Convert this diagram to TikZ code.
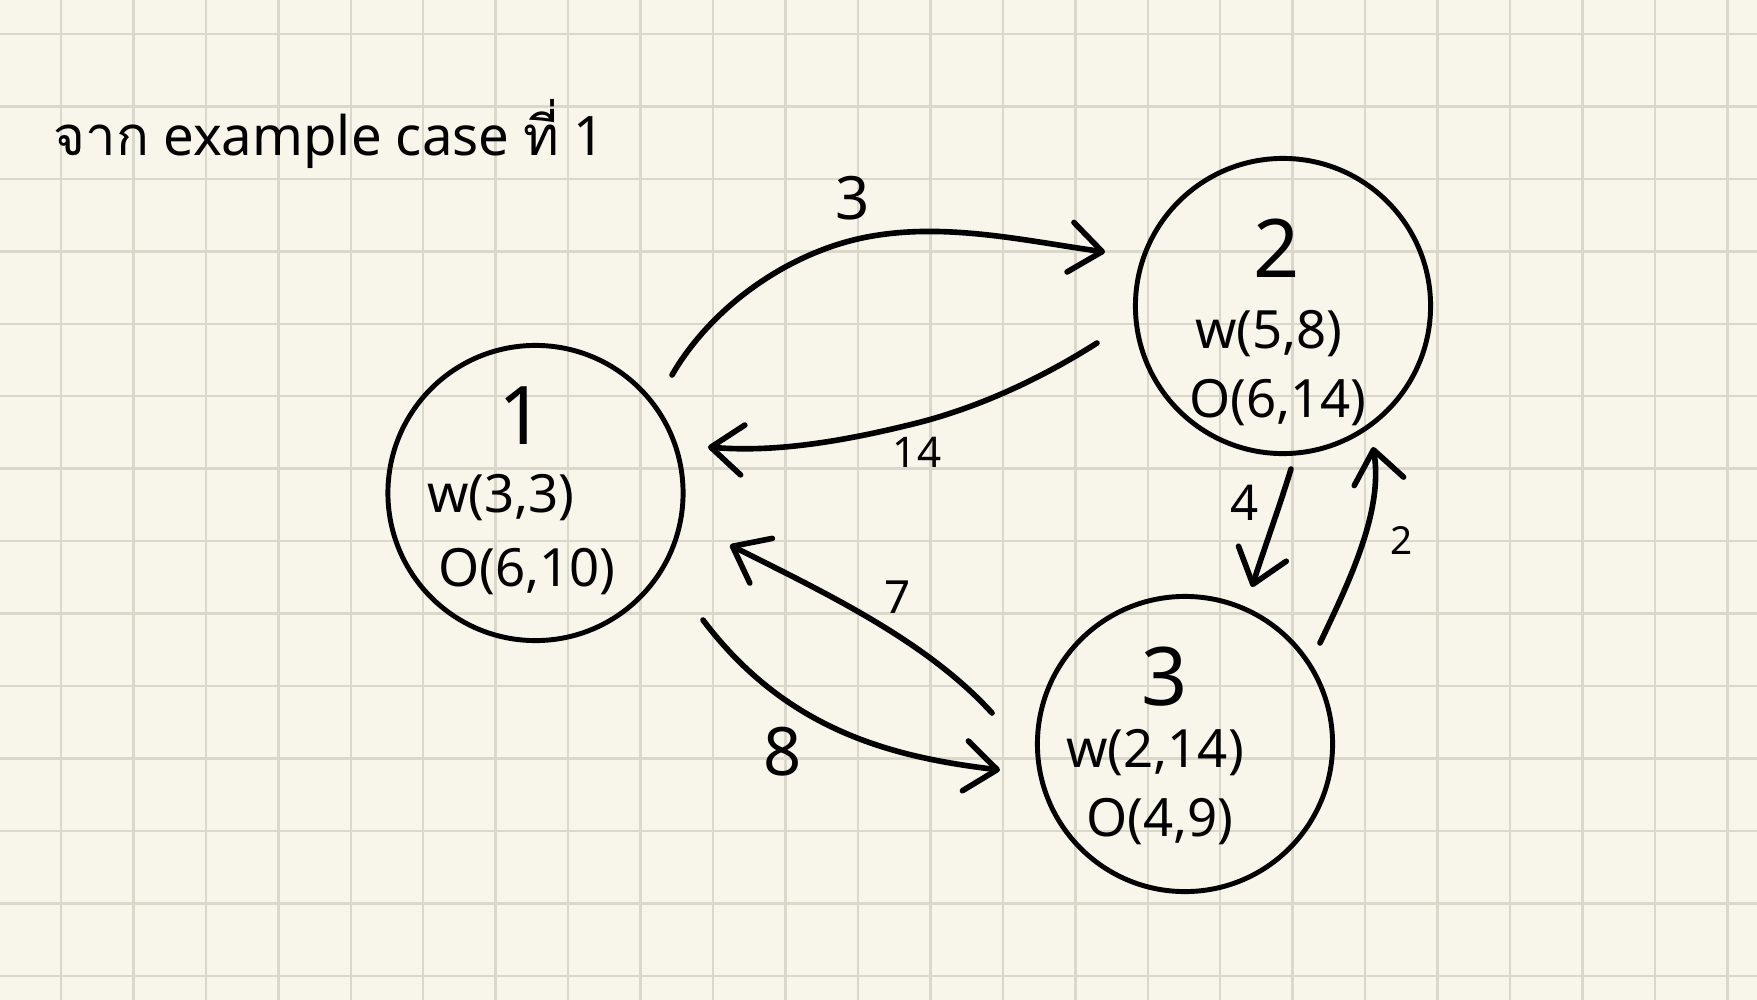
\documentclass[tikz,border=0pt]{standalone}
\usepackage{fontspec}
\setmainfont{Noto Sans}
\newfontfamily\thaifont[Script=Thai]{Loma}
\usetikzlibrary{arrows.meta,calc}
\definecolor{paper}{HTML}{F8F6EB}
\definecolor{gridc}{HTML}{DAD7CB}
\tikzset{
  gridline/.style={gridc, line width=0.7pt},
  state/.style={circle, draw, line width=1.4pt, minimum size=2.95cm, inner sep=0pt},
  edge/.style={line width=1.6pt, line cap=round, line join=round,
    -{Straight Barb[length=0.32cm,width=0.5cm,round]}},
  numtxt/.style={font=\fontsize{23pt}{26pt}\selectfont, inner sep=0pt},
  attr/.style={font=\fontsize{15pt}{18pt}\selectfont, inner sep=0pt},
  lbl/.style={inner sep=0pt},
}
\begin{document}
\begin{tikzpicture}[x=0.01cm,y=-0.01cm]
\fill[paper] (0,0) rectangle (1757,1000);
\useasboundingbox (0,0) rectangle (1757,1000);
% grid
\foreach \i in {0,...,23} \draw[gridline] ({61+72.45*\i},0) -- ({61+72.45*\i},1000);
\foreach \j in {0,...,13} \draw[gridline] (0,{34+72.45*\j}) -- (1757,{34+72.45*\j});

% title
\node[anchor=base west, inner sep=0pt, font=\fontsize{15.5pt}{19pt}\selectfont] (title) at (53,155)
  {{\thaifont จาก} example case {\thaifont ที่} 1};

% states
\node[state] (n1) at (535.5,493) {};
\node[state] (n2) at (1283,306) {};
\node[state] (n3) at (1185,744) {};

\node[numtxt] (n1num) at (522,416) {1};
\node[attr] (n1w) at (501,498) {w(3,3)};
\node[attr] (n1o) at (527,572) {O(6,10)};

\node[numtxt] (n2num) at (1277,248) {2};
\node[attr] (n2w) at (1269,334) {w(5,8)};
\node[attr] (n2o) at (1278,403) {O(6,14)};

\node[numtxt] (n3num) at (1165,677) {3};
\node[attr] (n3w) at (1155,753) {w(2,14)};
\node[attr] (n3o) at (1160,822) {O(4,9)};

% edges
\draw[edge] ($(n1)+(136.5,-118)$) .. controls (712,306) and (789,252) .. (867,237)
  .. controls (945,222) and (1026,241) .. ($(n2)+(-178,-54)$);
\draw[edge] ($(n2)+(-186,37)$) .. controls (1042,378) and (980,407) .. (917,423)
  .. controls (849,440) and (778,453) .. ($(n1)+(172.5,-46)$);
\draw[edge] ($(n2)+(8,163)$) .. controls (1280,505) and (1262,555) .. ($(n3)+(67,-157)$);
\draw[edge] ($(n3)+(135,-101)$) .. controls (1348,584) and (1384,511) .. ($(n2)+(90,141)$);
\draw[edge] ($(n3)+(-193,-31)$) .. controls (925,639) and (819,590) .. ($(n1)+(194.5,52)$);
\draw[edge] ($(n1)+(167.5,127)$) .. controls (786,730) and (891,757) .. ($(n3)+(-185,26)$);

% edge labels
\node[lbl, font=\fontsize{17pt}{20pt}\selectfont] (l12) at (853,198) {3};
\node[lbl, font=\fontsize{12pt}{14pt}\selectfont] (l21) at (917,452) {14};
\node[lbl, font=\fontsize{14pt}{16pt}\selectfont] (l23) at (1245,503) {4};
\node[lbl, font=\fontsize{11pt}{13pt}\selectfont] (l32) at (1402,540) {2};
\node[lbl, font=\fontsize{13pt}{15pt}\selectfont] (l31) at (898,597) {7};
\node[lbl, font=\fontsize{19pt}{22pt}\selectfont] (l13) at (783,752) {8};
\end{tikzpicture}
\end{document}
